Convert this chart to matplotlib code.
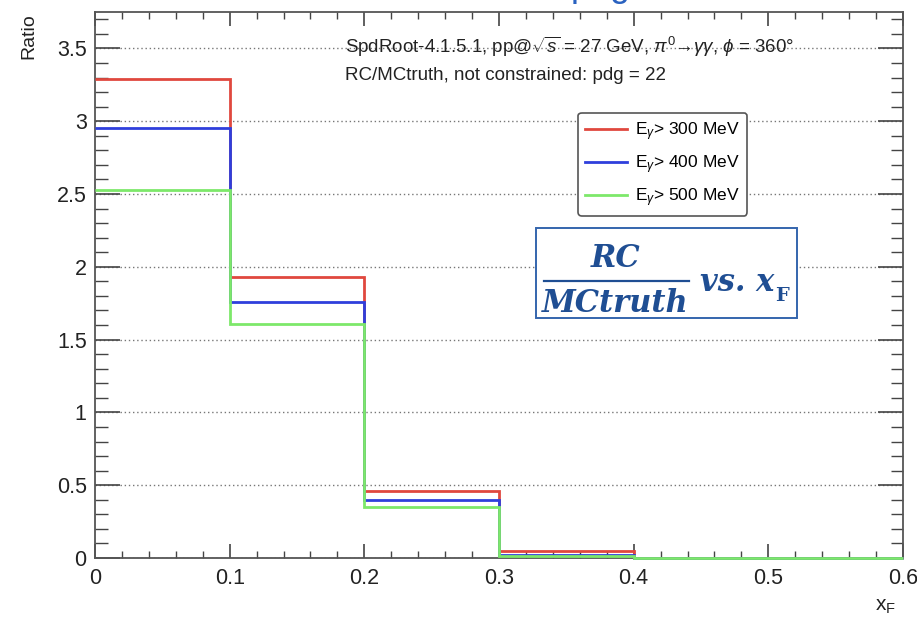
#!/usr/bin/env python3

import matplotlib
matplotlib.use("Agg")
import matplotlib.pyplot as plt
import numpy as np
from matplotlib.ticker import MultipleLocator, FuncFormatter
from matplotlib.patches import Rectangle

plt.rcParams['font.family'] = ['Liberation Sans', 'DejaVu Sans']
plt.rcParams['mathtext.fontset'] = 'custom'
plt.rcParams['mathtext.rm'] = 'Liberation Sans'
plt.rcParams['mathtext.it'] = 'Liberation Sans:italic'
plt.rcParams['mathtext.bf'] = 'Liberation Sans:bold'

# x_F bin edges and RC/MCtruth ratio per photon energy cut
xf_edges = [0.0, 0.1, 0.2, 0.3, 0.4, 0.5, 0.6]
ratio_300 = [3.29, 1.93, 0.46, 0.045, 0.0, 0.0]
ratio_400 = [2.95, 1.76, 0.40, 0.02, 0.0, 0.0]
ratio_500 = [2.53, 1.61, 0.35, 0.012, 0.0, 0.0]
cut_labels = [r'E$_{\gamma}$> 300 MeV', r'E$_{\gamma}$> 400 MeV', r'E$_{\gamma}$> 500 MeV']
line_colors = ['#e0483e', '#2f3fdc', '#7de86a']

fig = plt.figure(figsize=(9.17, 6.18), dpi=100)
ax = fig.add_axes([0.1036, 0.0971, 0.8811, 0.8835])

for vals, lab, col in zip([ratio_300, ratio_400, ratio_500], cut_labels, line_colors):
    ax.stairs(vals, xf_edges, color=col, linewidth=2.0, label=lab, baseline=None,
              clip_on=False, zorder=3)

ax.set_xlim(0, 0.6)
ax.set_ylim(0, 3.75)

# ROOT-like frame: inward ticks on all sides
ax.xaxis.set_major_locator(MultipleLocator(0.1))
ax.xaxis.set_minor_locator(MultipleLocator(0.02))
ax.yaxis.set_major_locator(MultipleLocator(0.5))
ax.yaxis.set_minor_locator(MultipleLocator(0.1))
ax.xaxis.set_major_formatter(FuncFormatter(lambda v, p: f'{v:g}'))
ax.yaxis.set_major_formatter(FuncFormatter(lambda v, p: f'{v:g}'))
ax.tick_params(axis='both', which='both', direction='in', top=True, right=True,
               colors='#444444', labelcolor='#222222', labelsize=15.5)
ax.tick_params(axis='x', which='major', length=10, width=1.2, pad=7)
ax.tick_params(axis='x', which='minor', length=5, width=1.0)
ax.tick_params(axis='y', which='major', length=18, width=1.2, pad=6)
ax.tick_params(axis='y', which='minor', length=9, width=1.0)
for sp in ax.spines.values():
    sp.set_color('#555555')
    sp.set_linewidth(1.3)
    sp.set_zorder(2)

ax.yaxis.grid(True, which='major', linestyle=(0, (1, 2)), color='#777777', linewidth=1.0)
ax.set_axisbelow(True)

fig.text(0.031, 0.978, 'Ratio', rotation=90, ha='center', va='top', fontsize=14, color='#222222')
fig.text(0.966, 0.003, r'x$_{\mathrm{F}}$', ha='center', va='bottom', fontsize=15, color='#222222')

ax.text(0.309, 0.936, r'SpdRoot-4.1.5.1, pp@$\sqrt{s}$ = 27 GeV, $\pi^{0}$→$\gamma\gamma$, $\phi$ = 360°',
        transform=ax.transAxes, ha='left', va='center', fontsize=13.5, color='#222222')
ax.text(0.309, 0.883, 'RC/MCtruth, not constrained: pdg = 22',
        transform=ax.transAxes, ha='left', va='center', fontsize=13.5, color='#222222')

leg = ax.legend(loc='upper left', bbox_to_anchor=(0.598, 0.815), borderaxespad=0,
                fontsize=12.5, handlelength=2.4, handletextpad=0.5, labelspacing=0.6,
                borderpad=0.4, frameon=True, fancybox=True)
leg.get_frame().set_edgecolor('#555555')
leg.get_frame().set_linewidth(1.2)
leg.get_frame().set_alpha(1)

# annotation box with RC/MCtruth vs. x_F
box_color = '#1f4e93'
ax.add_patch(Rectangle((0.546, 0.44), 0.323, 0.164, transform=ax.transAxes,
                       facecolor='white', edgecolor='#3465ad', linewidth=1.4, zorder=5))
serif = dict(family='DejaVu Serif', weight='bold', style='italic', color=box_color, zorder=6)
ax.text(0.644, 0.548, 'RC', transform=ax.transAxes, ha='center', va='center', fontsize=22, **serif)
ax.text(0.644, 0.466, 'MCtruth', transform=ax.transAxes, ha='center', va='center', fontsize=22, **serif)
ax.plot([0.556, 0.735], [0.508, 0.508], transform=ax.transAxes, color=box_color,
        linewidth=1.6, zorder=6)
ax.text(0.749, 0.505, 'vs. x', transform=ax.transAxes, ha='left', va='center', fontsize=22, **serif)
ax.text(0.842, 0.48, 'F', transform=ax.transAxes, ha='left', va='center', fontsize=14,
        family='DejaVu Serif', weight='bold', color=box_color, zorder=6)

# title of the slide, only its lower part is within the figure
fig.text(0.622, 1.007, 'pdg', ha='left', va='baseline', fontsize=26, color='#2a62c0')

fig.savefig('out.png', dpi=100)
